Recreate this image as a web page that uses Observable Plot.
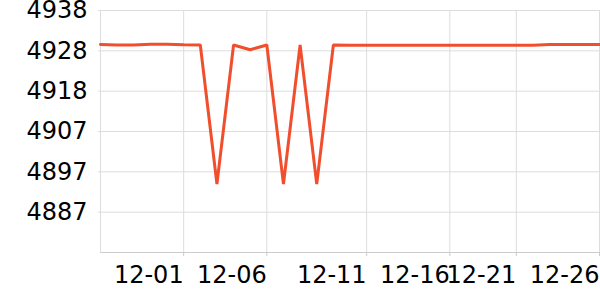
<!DOCTYPE html>
<html>
<head>
<meta charset="utf-8">
<script src="https://cdn.jsdelivr.net/npm/d3@7"></script>
<script src="https://cdn.jsdelivr.net/npm/@observablehq/plot@0.6"></script>
<style>
  html, body { margin: 0; padding: 0; background: #fff; }
  #chart { width: 600px; height: 300px; }
</style>
</head>
<body>
<div id="chart"></div>
<script>
// Data: 31 samples, evenly spaced by index
const values = [
  4929.40, 4929.32, 4929.32, 4929.45, 4929.45, 4929.35,
  4929.30, 4894.20, 4929.30, 4928.10, 4929.30, 4894.20,
  4929.30, 4894.20, 4929.30, 4929.25, 4929.25, 4929.25,
  4929.25, 4929.25, 4929.25, 4929.25, 4929.25, 4929.25,
  4929.25, 4929.25, 4929.25, 4929.40, 4929.40, 4929.40,
  4929.40
];
// x tick positions (sample index) and labels
const xTickIndex = [5, 10, 16, 21, 25, 30];
const xTickLabels = ["12-01", "12-06", "12-11", "12-16", "12-21", "12-26"];
// y domain and ticks
const yDomain = [4876.9, 4938.0];
const yTicks = [4887.08, 4897.27, 4907.45, 4917.63, 4927.82, 4938.0];

const data = values.map((v, i) => ({i, v}));
const labelOf = new Map(xTickIndex.map((t, k) => [t, xTickLabels[k]]));

const chart = Plot.plot({
  width: 600,
  height: 300,
  marginLeft: 100,
  marginRight: 1,
  marginTop: 10,
  marginBottom: 48,
  style: {fontFamily: "DejaVu Sans", fontSize: "24px", background: "#fff", overflow: "visible"},
  x: {type: "linear", domain: [0, values.length - 1]},
  y: {domain: yDomain},
  marks: [
    Plot.gridY(yTicks, {stroke: "#ddd", strokeOpacity: 1, x1: 0, x2: values.length - 1}),
    Plot.gridX(xTickIndex, {stroke: "#ddd", strokeOpacity: 1}),
    Plot.ruleX([0], {stroke: "#ddd"}),
    Plot.ruleY([yDomain[0]], {stroke: "#ccc"}),
    Plot.axisY(yTicks, {
      tickFormat: d3.format(".0f"), tickSize: 2, tickPadding: 11,
      stroke: "#ddd", fill: "#000", fontSize: 24, label: null
    }),
    Plot.axisX(xTickIndex, {
      tickFormat: d => labelOf.get(d), tickSize: 4, tickPadding: 9,
      textAnchor: "end", stroke: "#ccc", fill: "#000", fontSize: 24, label: null
    }),
    Plot.line(data, {x: "i", y: "v", stroke: "#f04e2d", strokeWidth: 3, strokeLinejoin: "miter"})
  ]
});
document.getElementById("chart").appendChild(chart);
</script>
</body>
</html>
